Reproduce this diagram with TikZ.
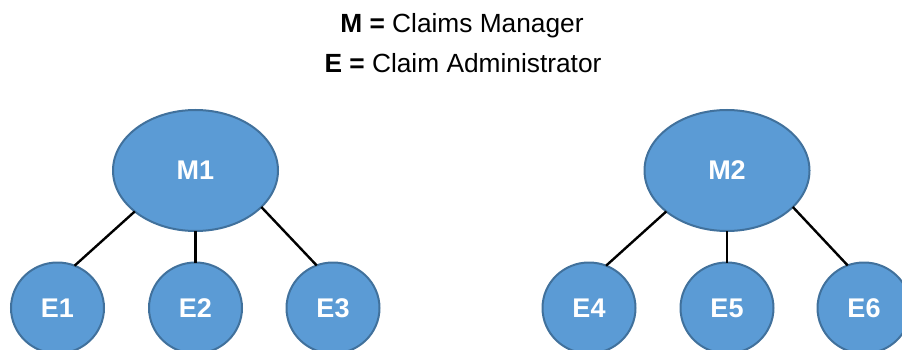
\documentclass[tikz,border=0pt]{standalone}
\usepackage{fontspec}
\setmainfont{Liberation Sans}
\usetikzlibrary{shapes.geometric}
\definecolor{nodefill}{HTML}{5B9BD5}
\definecolor{nodeline}{HTML}{41719C}
\tikzset{
  mgr/.style={ellipse, draw=nodeline, fill=nodefill, line width=2pt, inner sep=0pt, outer sep=0pt,
    minimum width=165pt, minimum height=121pt, text=white, font=\fontsize{27}{32}\selectfont\bfseries},
  emp/.style={ellipse, draw=nodeline, fill=nodefill, line width=2pt, inner sep=0pt, outer sep=0pt,
    minimum width=93pt, minimum height=91pt, text=white, font=\fontsize{27}{32}\selectfont\bfseries},
  link/.style={draw=black, line width=2.4pt},
  legend/.style={font=\fontsize{26.3}{31}\selectfont, anchor=base, inner sep=0pt}
}
\begin{document}
\begin{tikzpicture}[x=1pt,y=-1pt]
\useasboundingbox (0,0) rectangle (902,350);
\node[legend] (l1) at (462,33) {\textbf{M =} Claims Manager};
\node[legend] (l2) at (463,73) {\textbf{E =} Claim Administrator};
\node[mgr] (M1) at (195.5,170.5) {M1};
\node[mgr] (M2) at (727,170.5) {M2};
\node[emp] (E1) at (57.5,308) {E1};
\node[emp] (E2) at (195.5,308) {E2};
\node[emp] (E3) at (333,308) {E3};
\node[emp] (E4) at (589,308) {E4};
\node[emp] (E5) at (727,308) {E5};
\node[emp] (E6) at (864,308) {E6};
\draw[link] (M1.214) -- (E1.68);
\draw[link] (M1.south) -- (E2.north);
\draw[link] (M1.331) -- (E3.111);
\draw[link] (M2.214) -- (E4.68);
\draw[link] (M2.south) -- (E5.north);
\draw[link] (M2.331) -- (E6.111);
\end{tikzpicture}
\end{document}
